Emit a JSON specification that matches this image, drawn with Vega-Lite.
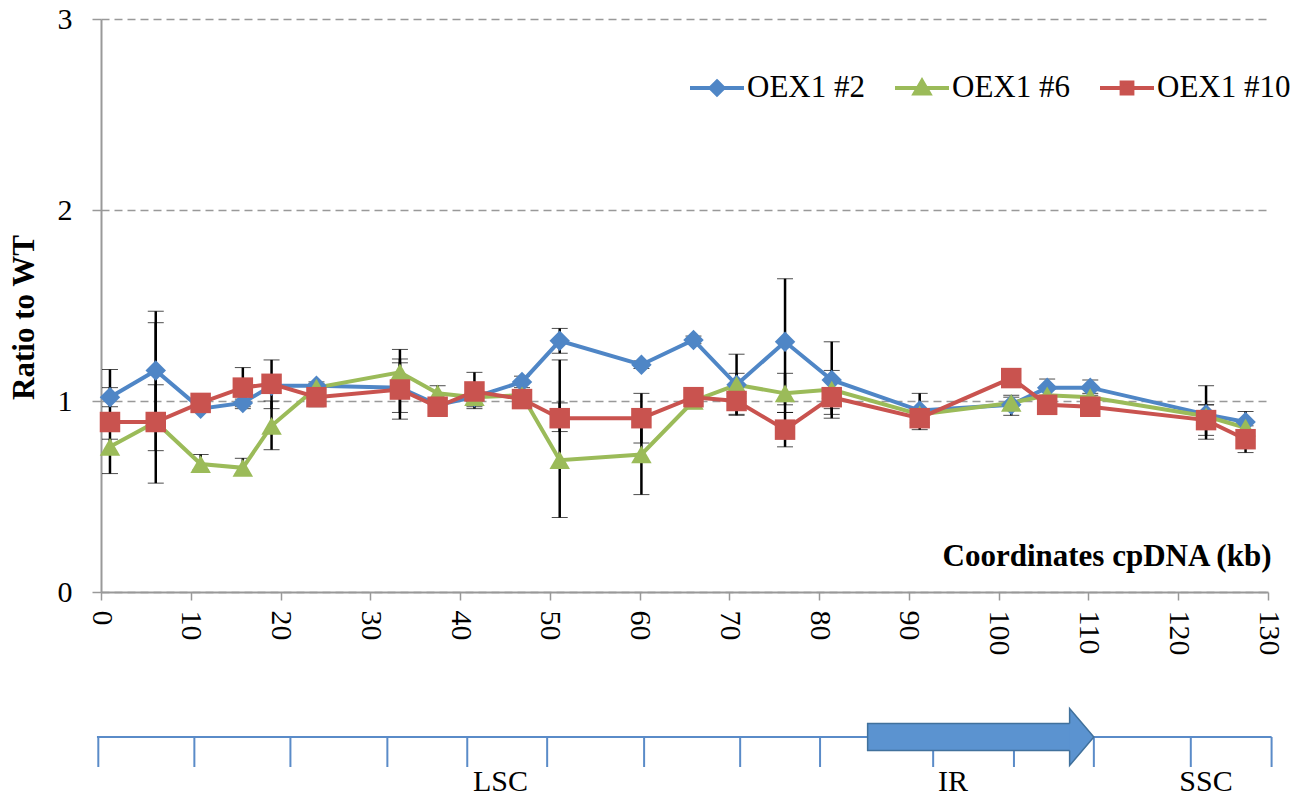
{
  "$schema": "https://vega.github.io/schema/vega-lite/v6.json",
  "padding": {"left": 8, "top": 4, "right": 5, "bottom": 0},
  "background": "white",
  "bounds": "flush",
  "spacing": 115,
  "config": {
    "view": {"stroke": null},
    "legend": {
      "title": null,
      "orient": "none",
      "legendX": 587,
      "legendY": 40,
      "direction": "horizontal",
      "labelFont": "Liberation Serif",
      "labelFontSize": 31,
      "labelColor": "black",
      "labelOffset": 1,
      "columnPadding": 22,
      "symbolSize": 2916,
      "symbolStrokeWidth": 4
    }
  },
  "datasets": {
    "ratios": [
      {"kb": 1.0, "line": "OEX1 #2", "ratio": 1.02, "low": 0.97, "high": 1.07},
      {"kb": 6.1, "line": "OEX1 #2", "ratio": 1.16, "low": 0.85, "high": 1.47},
      {"kb": 11.1, "line": "OEX1 #2", "ratio": 0.96, "low": 0.94, "high": 0.98},
      {"kb": 15.8, "line": "OEX1 #2", "ratio": 0.99, "low": 0.97, "high": 1.01},
      {"kb": 19.0, "line": "OEX1 #2", "ratio": 1.08, "low": 1.06, "high": 1.10},
      {"kb": 24.0, "line": "OEX1 #2", "ratio": 1.08, "low": 1.06, "high": 1.10},
      {"kb": 33.3, "line": "OEX1 #2", "ratio": 1.07, "low": 0.94, "high": 1.20},
      {"kb": 37.5, "line": "OEX1 #2", "ratio": 0.98, "low": 0.96, "high": 1.00},
      {"kb": 41.6, "line": "OEX1 #2", "ratio": 1.02, "low": 0.97, "high": 1.07},
      {"kb": 46.9, "line": "OEX1 #2", "ratio": 1.10, "low": 1.07, "high": 1.13},
      {"kb": 51.1, "line": "OEX1 #2", "ratio": 1.315, "low": 1.25, "high": 1.38},
      {"kb": 60.2, "line": "OEX1 #2", "ratio": 1.19, "low": 1.17, "high": 1.21},
      {"kb": 66.0, "line": "OEX1 #2", "ratio": 1.32, "low": 1.30, "high": 1.34},
      {"kb": 70.8, "line": "OEX1 #2", "ratio": 1.085, "low": 1.025, "high": 1.145},
      {"kb": 76.2, "line": "OEX1 #2", "ratio": 1.31, "low": 0.98, "high": 1.64},
      {"kb": 81.4, "line": "OEX1 #2", "ratio": 1.11, "low": 0.91, "high": 1.31},
      {"kb": 91.2, "line": "OEX1 #2", "ratio": 0.95, "low": 0.85, "high": 1.04},
      {"kb": 101.4, "line": "OEX1 #2", "ratio": 0.98, "low": 0.925, "high": 1.03},
      {"kb": 105.4, "line": "OEX1 #2", "ratio": 1.07, "low": 1.03, "high": 1.115},
      {"kb": 110.2, "line": "OEX1 #2", "ratio": 1.07, "low": 1.03, "high": 1.11},
      {"kb": 123.1, "line": "OEX1 #2", "ratio": 0.93, "low": 0.80, "high": 1.08},
      {"kb": 127.5, "line": "OEX1 #2", "ratio": 0.89, "low": 0.84, "high": 0.945},
      {"kb": 1.0, "line": "OEX1 #6", "ratio": 0.76, "low": 0.72, "high": 0.80},
      {"kb": 6.1, "line": "OEX1 #6", "ratio": 0.89, "low": 0.57, "high": 1.41},
      {"kb": 11.1, "line": "OEX1 #6", "ratio": 0.67, "low": 0.64, "high": 0.72},
      {"kb": 15.8, "line": "OEX1 #6", "ratio": 0.65, "low": 0.62, "high": 0.70},
      {"kb": 19.0, "line": "OEX1 #6", "ratio": 0.87, "low": 0.745, "high": 1.0},
      {"kb": 24.0, "line": "OEX1 #6", "ratio": 1.07, "low": 1.05, "high": 1.09},
      {"kb": 33.3, "line": "OEX1 #6", "ratio": 1.15, "low": 1.03, "high": 1.27},
      {"kb": 37.5, "line": "OEX1 #6", "ratio": 1.04, "low": 1.00, "high": 1.08},
      {"kb": 41.6, "line": "OEX1 #6", "ratio": 1.02, "low": 1.00, "high": 1.04},
      {"kb": 46.9, "line": "OEX1 #6", "ratio": 1.03, "low": 1.00, "high": 1.06},
      {"kb": 51.1, "line": "OEX1 #6", "ratio": 0.69, "low": 0.39, "high": 0.99},
      {"kb": 60.2, "line": "OEX1 #6", "ratio": 0.72, "low": 0.51, "high": 0.93},
      {"kb": 66.0, "line": "OEX1 #6", "ratio": 1.00, "low": 0.97, "high": 1.03},
      {"kb": 70.8, "line": "OEX1 #6", "ratio": 1.085, "low": 0.925, "high": 1.245},
      {"kb": 76.2, "line": "OEX1 #6", "ratio": 1.04, "low": 0.94, "high": 1.145},
      {"kb": 81.4, "line": "OEX1 #6", "ratio": 1.06, "low": 0.96, "high": 1.16},
      {"kb": 91.2, "line": "OEX1 #6", "ratio": 0.93, "low": 0.90, "high": 0.96},
      {"kb": 101.4, "line": "OEX1 #6", "ratio": 0.99, "low": 0.96, "high": 1.02},
      {"kb": 105.4, "line": "OEX1 #6", "ratio": 1.03, "low": 1.00, "high": 1.06},
      {"kb": 110.2, "line": "OEX1 #6", "ratio": 1.02, "low": 1.00, "high": 1.04},
      {"kb": 123.1, "line": "OEX1 #6", "ratio": 0.92, "low": 0.90, "high": 0.98},
      {"kb": 127.5, "line": "OEX1 #6", "ratio": 0.86, "low": 0.83, "high": 0.89},
      {"kb": 1.0, "line": "OEX1 #10", "ratio": 0.89, "low": 0.62, "high": 1.165},
      {"kb": 6.1, "line": "OEX1 #10", "ratio": 0.89, "low": 0.74, "high": 1.085},
      {"kb": 11.1, "line": "OEX1 #10", "ratio": 0.99, "low": 0.97, "high": 1.01},
      {"kb": 15.8, "line": "OEX1 #10", "ratio": 1.07, "low": 0.96, "high": 1.175},
      {"kb": 19.0, "line": "OEX1 #10", "ratio": 1.09, "low": 0.96, "high": 1.215},
      {"kb": 24.0, "line": "OEX1 #10", "ratio": 1.02, "low": 0.97, "high": 1.07},
      {"kb": 33.3, "line": "OEX1 #10", "ratio": 1.06, "low": 0.905, "high": 1.22},
      {"kb": 37.5, "line": "OEX1 #10", "ratio": 0.97, "low": 0.95, "high": 0.99},
      {"kb": 41.6, "line": "OEX1 #10", "ratio": 1.05, "low": 0.96, "high": 1.15},
      {"kb": 46.9, "line": "OEX1 #10", "ratio": 1.01, "low": 0.98, "high": 1.04},
      {"kb": 51.1, "line": "OEX1 #10", "ratio": 0.91, "low": 0.84, "high": 1.215},
      {"kb": 60.2, "line": "OEX1 #10", "ratio": 0.91, "low": 0.78, "high": 1.04},
      {"kb": 66.0, "line": "OEX1 #10", "ratio": 1.02, "low": 0.96, "high": 1.06},
      {"kb": 70.8, "line": "OEX1 #10", "ratio": 1.00, "low": 0.93, "high": 1.07},
      {"kb": 76.2, "line": "OEX1 #10", "ratio": 0.85, "low": 0.76, "high": 0.94},
      {"kb": 81.4, "line": "OEX1 #10", "ratio": 1.02, "low": 0.93, "high": 1.11},
      {"kb": 91.2, "line": "OEX1 #10", "ratio": 0.91, "low": 0.88, "high": 0.94},
      {"kb": 101.4, "line": "OEX1 #10", "ratio": 1.12, "low": 1.10, "high": 1.14},
      {"kb": 105.4, "line": "OEX1 #10", "ratio": 0.98, "low": 0.96, "high": 1.00},
      {"kb": 110.2, "line": "OEX1 #10", "ratio": 0.97, "low": 0.95, "high": 0.99},
      {"kb": 123.1, "line": "OEX1 #10", "ratio": 0.90, "low": 0.82, "high": 0.98},
      {"kb": 127.5, "line": "OEX1 #10", "ratio": 0.80, "low": 0.73, "high": 0.87}
    ],
    "track": [{"start": -0.45, "end": 130.4}],
    "mapTicks": [
      {"kb": -0.3}, {"kb": 10.4}, {"kb": 21.1}, {"kb": 31.9}, {"kb": 40.8}, {"kb": 49.7},
      {"kb": 60.5}, {"kb": 71.2}, {"kb": 80.1}, {"kb": 92.7}, {"kb": 101.7}, {"kb": 110.6},
      {"kb": 121.4}, {"kb": 130.4}
    ],
    "ir": [{"start": 85.4, "end": 110.6}],
    "regions": [
      {"region": "LSC", "mid": 44.5},
      {"region": "IR", "mid": 94.9},
      {"region": "SSC", "mid": 123.1}
    ]
  },
  "vconcat": [
    {
      "width": 1167,
      "height": 573,
      "data": {"name": "ratios"},
      "encoding": {
        "x": {
          "field": "kb",
          "type": "quantitative",
          "scale": {"domain": [0, 130], "nice": false, "zero": false},
          "axis": {
            "values": [0, 10, 20, 30, 40, 50, 60, 70, 80, 90, 100, 110, 120, 130],
            "grid": false,
            "tickSize": 8,
            "tickColor": "#999999",
            "tickWidth": 1.5,
            "domainColor": "#999999",
            "domainWidth": 2,
            "labelAngle": 90,
            "labelPadding": 10,
            "labelFont": "Liberation Serif",
            "labelFontSize": 30,
            "labelColor": "black",
            "title": "Coordinates cpDNA (kb)",
            "titleFont": "Liberation Serif",
            "titleFontSize": 31,
            "titleFontWeight": "bold",
            "titleColor": "black",
            "titleAlign": "right",
            "titleBaseline": "alphabetic",
            "titleX": 1170,
            "titleY": -27
          }
        },
        "y": {
          "field": "ratio",
          "type": "quantitative",
          "title": "Ratio to WT",
          "scale": {"domain": [0, 3], "nice": false},
          "axis": {
            "values": [0, 1, 2, 3],
            "format": "d",
            "grid": true,
            "gridDash": [8, 5],
            "gridColor": "#999999",
            "gridWidth": 1.5,
            "tickSize": 9,
            "tickColor": "#999999",
            "tickWidth": 1.5,
            "domainColor": "#999999",
            "domainWidth": 2,
            "labelFont": "Liberation Serif",
            "labelFontSize": 30,
            "labelColor": "black",
            "labelPadding": 20,
            "title": "Ratio to WT",
            "titleFont": "Liberation Serif",
            "titleFontSize": 31,
            "titleFontWeight": "bold",
            "titleColor": "black",
            "titlePadding": 17,
            "titleY": 298
          }
        }
      },
      "layer": [
        {
          "mark": {
            "type": "errorbar",
            "color": "black",
            "rule": {"strokeWidth": 2.5, "color": "black"},
            "ticks": {"size": 16, "strokeWidth": 2.5, "color": "black"}
          },
          "encoding": {
            "y": {"field": "low", "type": "quantitative", "title": "Ratio to WT"},
            "y2": {"field": "high"},
            "detail": {"field": "line"}
          }
        },
        {
          "mark": {"type": "line", "strokeWidth": 4},
          "encoding": {
            "color": {
              "field": "line",
              "type": "nominal",
              "scale": {"domain": ["OEX1 #2", "OEX1 #6", "OEX1 #10"], "range": ["#4F86C6", "#9BBB59", "#C9534F"]},
              "legend": {
                "encode": {
                  "symbols": {
                    "update": {
                      "shape": {"signal": "datum.value === 'OEX1 #2' ? 'M-1,0H1M0,-0.24L0.24,0L0,0.24L-0.24,0Z' : (datum.value === 'OEX1 #6' ? 'M-1,0H1M0,-0.26L0.27,0.2L-0.27,0.2Z' : 'M-1,0H1M-0.2,-0.2H0.2V0.2H-0.2Z')"},
                      "size": {"value": 2916},
                      "stroke": {"scale": "color", "field": "value"},
                      "fill": {"scale": "color", "field": "value"},
                      "strokeWidth": {"value": 4},
                      "opacity": {"value": 1}
                    }
                  }
                }
              }
            },
            "order": {"field": "kb"}
          }
        },
        {
          "transform": [{"filter": "datum.line === 'OEX1 #2'"}],
          "mark": {"type": "point", "filled": true, "opacity": 1, "size": 420, "shape": "diamond", "color": "#4F86C6"}
        },
        {
          "transform": [{"filter": "datum.line === 'OEX1 #6'"}],
          "mark": {"type": "point", "filled": true, "opacity": 1, "size": 420, "shape": "triangle-up", "color": "#9BBB59"}
        },
        {
          "transform": [{"filter": "datum.line === 'OEX1 #10'"}],
          "mark": {"type": "point", "filled": true, "opacity": 1, "size": 420, "shape": "square", "color": "#C9534F"}
        }
      ]
    },
    {
      "width": 1167,
      "height": 90,
      "layer": [
        {
          "data": {"name": "track"},
          "mark": {"type": "rule", "color": "#5A8BC8", "strokeWidth": 2},
          "encoding": {
            "x": {"field": "start", "type": "quantitative", "scale": {"domain": [0, 130], "nice": false, "zero": false}, "axis": null},
            "x2": {"field": "end"},
            "y": {"datum": 0, "type": "quantitative", "scale": {"domain": [-2, 1], "nice": false}, "axis": null}
          }
        },
        {
          "data": {"name": "mapTicks"},
          "mark": {"type": "rule", "color": "#5A8BC8", "strokeWidth": 2},
          "encoding": {
            "x": {"field": "kb", "type": "quantitative"},
            "y": {"datum": 0, "type": "quantitative"},
            "y2": {"datum": -1}
          }
        },
        {
          "data": {"name": "ir"},
          "mark": {"type": "rect", "fill": "#5B93D0", "stroke": "#41719C", "strokeWidth": 1.5, "x2Offset": -22},
          "encoding": {
            "x": {"field": "start", "type": "quantitative"},
            "x2": {"field": "end"},
            "y": {"datum": 0.45, "type": "quantitative"},
            "y2": {"datum": -0.45}
          }
        },
        {
          "data": {"name": "ir"},
          "mark": {"type": "point", "filled": true, "fill": "#5B93D0", "stroke": "#41719C", "strokeWidth": 1.5, "opacity": 1, "size": 3249, "shape": "M-0.85,-0.47L-0.85,-1L0,0L-0.85,1L-0.85,0.47"},
          "encoding": {
            "x": {"field": "end", "type": "quantitative"},
            "y": {"datum": 0, "type": "quantitative"}
          }
        },
        {
          "data": {"name": "regions"},
          "mark": {"type": "text", "font": "Liberation Serif", "fontSize": 30, "color": "black", "baseline": "middle", "align": "center"},
          "encoding": {
            "x": {"field": "mid", "type": "quantitative"},
            "y": {"datum": -1.5, "type": "quantitative"},
            "text": {"field": "region"}
          }
        }
      ]
    }
  ]
}
